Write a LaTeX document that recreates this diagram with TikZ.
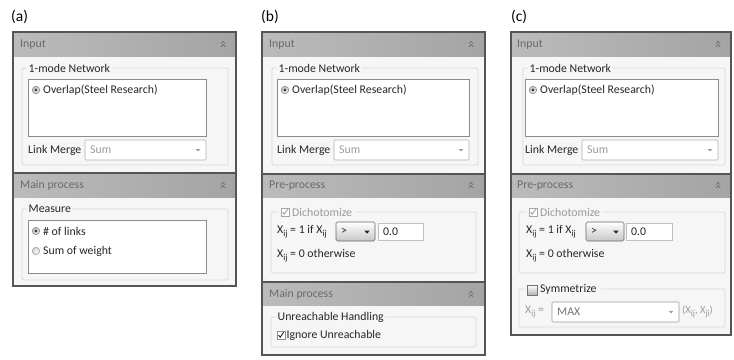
\documentclass[tikz,border=0pt]{standalone}
\usepackage{fontspec}
\setmainfont{Carlito}
\newcommand\mysub[1]{\raisebox{-2.8pt}{\fontsize{9}{9}\selectfont #1}}
\definecolor{bodybg}{HTML}{F6F6F6}
\definecolor{framec}{HTML}{555555}
\definecolor{hdrL}{HTML}{BBBBBB}
\definecolor{hdrR}{HTML}{A4A4A4}
\definecolor{grpc}{HTML}{D8D8D8}
\definecolor{boxc}{HTML}{8C8C8C}
\definecolor{txtc}{HTML}{262626}
\definecolor{dimc}{HTML}{9A9A9A}
\definecolor{hdrtxt}{HTML}{6A6A6A}
\tikzset{
 framebox/.style={draw=framec, line width=1.8pt},
 hdr/.style={left color=hdrL, right color=hdrR, draw=none},
 grp/.style={draw=grpc, line width=0.8pt, rounded corners=1.5pt},
 box/.style={draw=boxc, fill=white, line width=0.6pt},
 dimbox/.style={draw=black!30, fill=white, line width=0.6pt, rounded corners=1pt},
 btn/.style={draw=black!60, top color=white, bottom color=black!22, line width=0.6pt, rounded corners=1.5pt},
 lbl/.style={font=\fontsize{11.8}{13}\selectfont, text=txtc, inner sep=0pt, anchor=west},
 dim/.style={lbl, text=dimc},
 htxt/.style={lbl, text=hdrtxt},
 gtitle/.style={lbl, fill=bodybg, inner xsep=1.5pt, inner ysep=0.5pt},
 ptitle/.style={font=\fontsize{15.5}{17}\selectfont, text=black, inner sep=0pt, anchor=west},
 sepline/.style={draw=framec, line width=1.6pt},
 chev/.pic={\draw[hdrtxt, line width=0.6pt] (-2.2,-0.3)--(0,-2.6)--(2.2,-0.3) (-2.2,2.9)--(0,0.6)--(2.2,2.9);},
 radioon/.pic={\draw[boxc, line width=0.5pt, inner color=white, outer color=black!28] (0,0) circle (3.8); \fill[black!75] (0,0) circle (1.7);},
 radiooff/.pic={\draw[black!35, line width=0.5pt, inner color=white, outer color=black!22] (0,0) circle (3.8);},
 checkon/.pic={\draw[boxc, fill=white, line width=0.5pt] (-4,-4) rectangle (4,4); \draw[txtc, line width=0.9pt] (-2.4,0)--(-0.8,2.3)--(2.6,-2.8);},
 checkdim/.pic={\draw[black!35, fill=white, line width=0.5pt] (-4,-4) rectangle (4,4); \draw[black!40, line width=0.8pt] (-2.4,0)--(-0.8,2.3)--(2.6,-2.8);},
 checkoff/.pic={\draw[black!55, line width=0.5pt, top color=white, bottom color=black!30] (-5,-5) rectangle (5,5);},
 darr/.pic={\fill[txtc] (-2.8,-1.4)--(2.8,-1.4)--(0,1.6)--cycle;},
 darrdim/.pic={\fill[dimc] (-2.3,-1)--(2.3,-1)--(0,1.3)--cycle;}
}
\begin{document}
\begin{tikzpicture}[x=1pt,y=-1pt]
\useasboundingbox (0,0) rectangle (734,359);
\fill[white] (0,0) rectangle (734,359);

% ================= Panel (a) =================
\node[ptitle] (ta) at (11,17) {(a)};
\fill[bodybg] (13,32) rectangle (236,286);
\fill[hdr] (13,32) rectangle (236,56);
\node[htxt] (a-in) at (20,44.5) {Input};
\pic at (223,44) {chev};
\draw[grp] (22,68) rectangle (228,165);
\node[gtitle] (a-g1) at (27,68) {1-mode Network};
\draw[box] (28,79) rectangle (206,136);
\pic at (36,90) {radioon};
\node[lbl] (a-ov) at (43,90) {Overlap(Steel Research)};
\node[lbl] (a-lm) at (28,150) {Link Merge};
\draw[dimbox] (85,140) rectangle (206,160);
\node[dim] (a-sum) at (90,150) {Sum};
\pic at (198,150) {darrdim};
\fill[hdr] (13,173) rectangle (236,197);
\draw[sepline] (13,173)--(236,173);
\node[htxt] (a-mp) at (20,185.5) {Main process};
\pic at (223,185) {chev};
\draw[grp] (22,209) rectangle (228,280);
\node[gtitle] (a-g2) at (27,209) {Measure};
\draw[box] (28,220) rectangle (206,273);
\pic at (36,231) {radioon};
\node[lbl] (a-r1) at (43,231) {\# of links};
\pic at (36,251) {radiooff};
\node[lbl] (a-r2) at (43,251) {Sum of weight};
\draw[framebox] (13,32) rectangle (236,286);

% ================= Panel (b) =================
\node[ptitle] (tb) at (261,17) {(b)};
\fill[bodybg] (262,32) rectangle (485,355);
\fill[hdr] (262,32) rectangle (485,56);
\node[htxt] (b-in) at (269,44.5) {Input};
\pic at (471,44) {chev};
\draw[grp] (272,68) rectangle (478,165);
\node[gtitle] (b-g1) at (277,68) {1-mode Network};
\draw[box] (277,79) rectangle (469,136);
\pic at (285,90) {radioon};
\node[lbl] (b-ov) at (292,90) {Overlap(Steel Research)};
\node[lbl] (b-lm) at (277,150) {Link Merge};
\draw[dimbox] (334,140) rectangle (469,160);
\node[dim] (b-sum) at (339,150) {Sum};
\pic at (461,150) {darrdim};
\fill[hdr] (262,174) rectangle (485,197);
\draw[sepline] (262,174)--(485,174);
\node[htxt] (b-pp) at (269,186) {Pre-process};
\pic at (471,185) {chev};
\draw[grp] (271,212) rectangle (476,273);
\fill[bodybg] (279,205) rectangle (356,219);
\pic at (285,212) {checkdim};
\node[dim] (b-dich) at (292,212) {Dichotomize};
\node[lbl] (b-x1) at (277,232) {X\mysub{ij} = 1 if X\mysub{ij}};
\draw[btn] (336,222) rectangle (375,241);
\node[lbl] (b-gt) at (341,231.5) {>};
\pic at (367,232) {darr};
\draw[box, draw=black!25] (378,223) rectangle (423,240);
\node[lbl] (b-val) at (383,231.5) {0.0};
\node[lbl] (b-x0) at (277,256) {X\mysub{ij} = 0 otherwise};
\fill[hdr] (262,282) rectangle (485,305);
\draw[sepline] (262,282)--(485,282);
\node[htxt] (b-mp) at (269,294.5) {Main process};
\pic at (471,294) {chev};
\draw[grp] (271,317) rectangle (476,347);
\node[gtitle] (b-g3) at (276,317) {Unreachable Handling};
\pic at (281,335) {checkon};
\node[lbl] (b-ig) at (286.5,335) {Ignore Unreachable};
\draw[framebox] (262,32) rectangle (485,355);

% ================= Panel (c) =================
\node[ptitle] (tc) at (511,17) {(c)};
\fill[bodybg] (511,32) rectangle (731,335);
\fill[hdr] (511,32) rectangle (731,56);
\node[htxt] (c-in) at (517,44.5) {Input};
\pic at (718,44) {chev};
\draw[grp] (523,68) rectangle (725,165);
\node[gtitle] (c-g1) at (528,68) {1-mode Network};
\draw[box] (525,79) rectangle (718,136);
\pic at (533,90) {radioon};
\node[lbl] (c-ov) at (540,90) {Overlap(Steel Research)};
\node[lbl] (c-lm) at (525,150) {Link Merge};
\draw[dimbox] (582,140) rectangle (718,160);
\node[dim] (c-sum) at (587,150) {Sum};
\pic at (710,150) {darrdim};
\fill[hdr] (511,174) rectangle (731,197);
\draw[sepline] (511,174)--(731,174);
\node[htxt] (c-pp) at (517,186) {Pre-process};
\pic at (718,185) {chev};
\draw[grp] (519,212) rectangle (725,273);
\fill[bodybg] (527,205) rectangle (603,219);
\pic at (533,212) {checkdim};
\node[dim] (c-dich) at (540,212) {Dichotomize};
\node[lbl] (c-x1) at (526,232) {X\mysub{ij} = 1 if X\mysub{ij}};
\draw[btn] (586,222) rectangle (624,241);
\node[lbl] (c-gt) at (591,231.5) {>};
\pic at (616,232) {darr};
\draw[box, draw=black!25] (626,223) rectangle (672,240);
\node[lbl] (c-val) at (631,231.5) {0.0};
\node[lbl] (c-x0) at (526,256) {X\mysub{ij} = 0 otherwise};
\draw[grp] (519,289) rectangle (725,327);
\fill[bodybg] (525,283) rectangle (601,296);
\pic at (532,290) {checkoff};
\node[lbl] (c-sym) at (540,289.5) {Symmetrize};
\node[dim] (c-xe) at (525,312) {X\mysub{ij} =};
\draw[dimbox, draw=black!40] (552,302) rectangle (679,322);
\node[lbl, text=black!55] (c-max) at (557,312) {MAX};
\pic at (671,312) {darrdim};
\node[dim, font=\fontsize{10.5}{12}\selectfont] (c-pair) at (682,312) {(X\mysub{ij}, X\mysub{ji})};
\draw[framebox] (511,32) rectangle (731,335);
\end{tikzpicture}
\end{document}
